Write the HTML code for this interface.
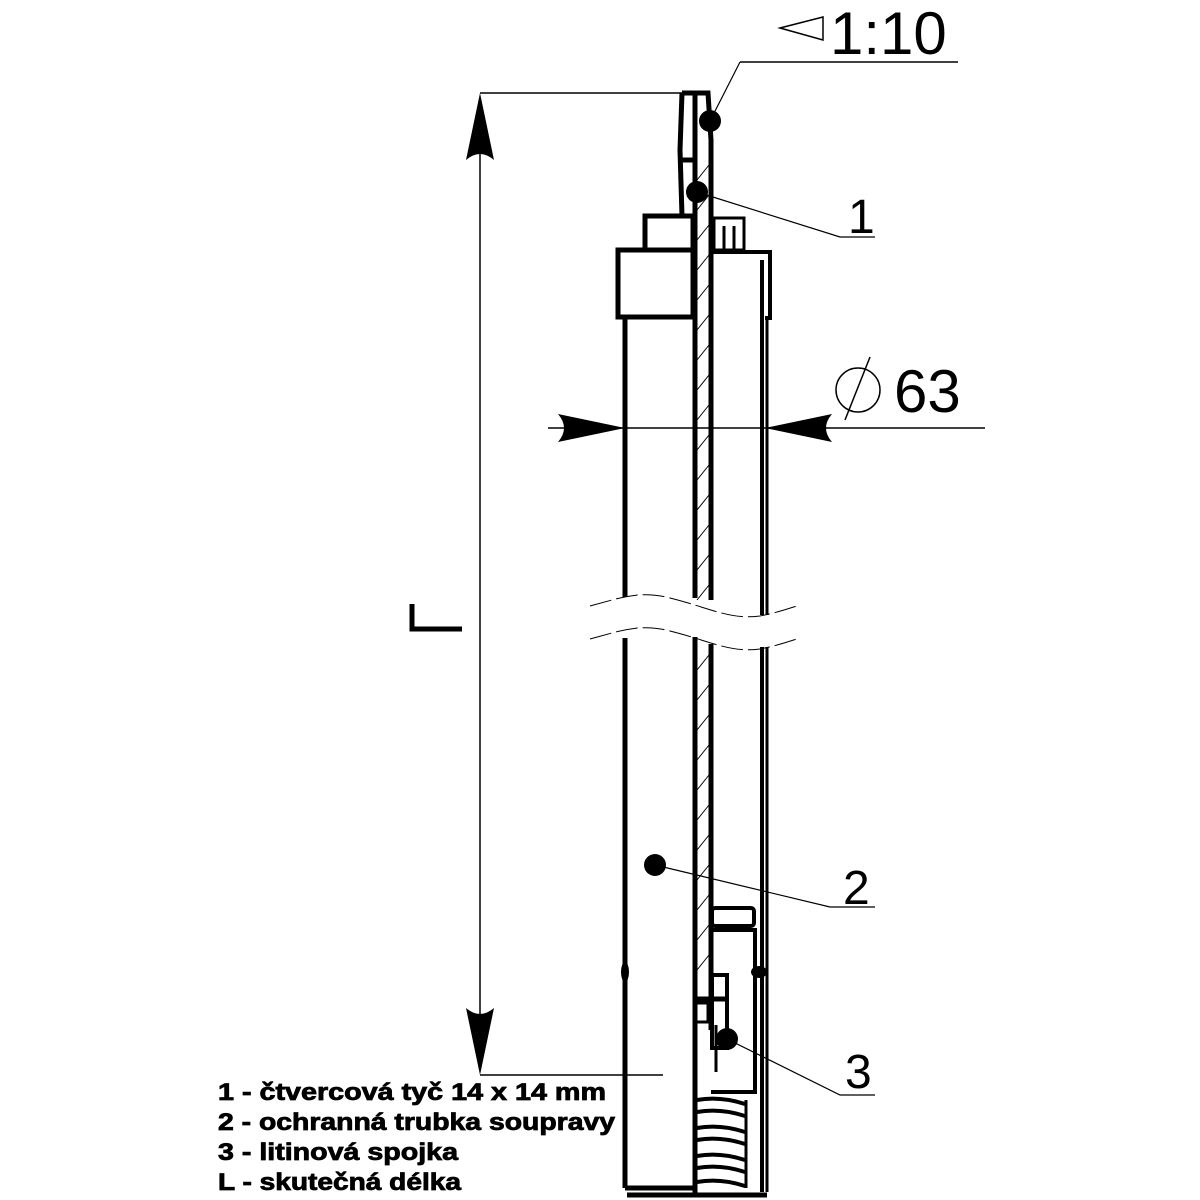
<!DOCTYPE html>
<html><head><meta charset="utf-8"><style>html,body{margin:0;padding:0;background:#fff}svg{display:block}</style></head>
<body>
<svg width="1200" height="1200" viewBox="0 0 1200 1200" xmlns="http://www.w3.org/2000/svg" font-family="Liberation Sans, sans-serif">
<rect width="1200" height="1200" fill="#fff"/>
<g stroke="#000" fill="none">
<line x1="480" y1="93" x2="682" y2="93" stroke-width="1.5"/>
<line x1="480" y1="1075" x2="663" y2="1075" stroke-width="1.5"/>
<line x1="480" y1="100" x2="480" y2="1068" stroke-width="1.5"/>
</g>
<path d="M480,93 L466,160 Q480,148 494,160 Z" fill="#000"/>
<path d="M480,1075 L466,1008 Q480,1020 494,1008 Z" fill="#000"/>
<path d="M412,604 L412,629 L462,629" stroke="#000" stroke-width="5" fill="none"/>
<line x1="548" y1="428" x2="985" y2="428" stroke="#000" stroke-width="1.5"/>
<path d="M625,428 L558,414 Q570,428 558,442 Z" fill="#000"/>
<path d="M765,428 L832,414 Q820,428 832,442 Z" fill="#000"/>
<circle cx="858" cy="390" r="22" stroke="#000" stroke-width="1.5" fill="none"/>
<line x1="845" y1="420" x2="870" y2="357" stroke="#000" stroke-width="1.5"/>
<text x="894" y="412" font-size="60">63</text>
<path d="M780,28 L823,17 L823,40 Z" stroke="#000" stroke-width="1.5" fill="none"/>
<text x="830" y="54" font-size="60">1:10</text>
<line x1="740" y1="62" x2="958" y2="62" stroke="#000" stroke-width="1.5"/>
<line x1="740" y1="62" x2="710" y2="121" stroke="#000" stroke-width="1.2"/>
<circle cx="710" cy="121" r="11" fill="#000"/>
<circle cx="697" cy="192" r="11" fill="#000"/>
<path d="M697,192 L840,237 L875,237" stroke="#000" stroke-width="1.2" fill="none"/>
<text x="848" y="233" font-size="48">1</text>
<g stroke="#000" fill="none" stroke-width="5">
<path d="M682,93 L708,93 L711,140 L711,600"/>
<path d="M682,93 L680,150 L682,216"/>
<line x1="682" y1="160" x2="695" y2="160"/>
<line x1="695" y1="93" x2="695" y2="598"/>
<rect x="645" y="216" width="48" height="34"/>
<rect x="618" y="250" width="75" height="67"/>
<rect x="714" y="218" width="30" height="32" stroke-width="3"/>
<line x1="724" y1="226" x2="724" y2="250" stroke-width="3"/>
<line x1="734" y1="226" x2="734" y2="250" stroke-width="3"/>
<path d="M711,252 L770,252 L770,318 L765,318" stroke-width="4"/>
<line x1="762" y1="260" x2="762" y2="615" stroke-width="4"/>
<line x1="767" y1="318" x2="767" y2="615" stroke-width="3"/>
<line x1="625" y1="317" x2="625" y2="597"/>
<line x1="625" y1="638" x2="625" y2="1188"/>
<line x1="695" y1="637" x2="695" y2="1197"/>
<line x1="711" y1="644" x2="711" y2="1030"/>
<line x1="762" y1="647" x2="762" y2="1192" stroke-width="4"/>
<line x1="767" y1="647" x2="767" y2="1192" stroke-width="3"/>
<path d="M625,1188 L693,1188 M627,1195 L767,1195"/>
<rect x="712" y="908" width="42" height="18" rx="3" stroke-width="4"/>
<path d="M711,930 L755,930 L755,1092 L711,1092" stroke-width="4"/>
<rect x="712" y="975" width="15" height="73" stroke-width="4"/>
<line x1="695" y1="998" x2="727" y2="998" stroke-width="3"/>
<line x1="695" y1="1000" x2="727" y2="1000" stroke-width="3"/>
<path d="M695,1003 L708,1003 L708,1022 L695,1022" stroke-width="3"/>
<line x1="716" y1="1025" x2="716" y2="1072" stroke-width="3"/>
</g>
<g stroke="#000" stroke-width="1" fill="none">
<path d="M697,180 L709,165 M697,210 L709,195 M697,240 L709,225 M697,270 L709,255 M697,300 L709,285 M697,330 L709,315 M697,360 L709,345 M697,390 L709,375 M697,420 L709,405 M697,450 L709,435 M697,480 L709,465 M697,510 L709,495 M697,540 L709,525 M697,570 L709,555 M697,600 L709,585 M697,670 L709,655 M697,700 L709,685 M697,730 L709,715 M697,760 L709,745 M697,790 L709,775 M697,820 L709,805 M697,850 L709,835 M697,880 L709,865 M697,910 L709,895 M697,940 L709,925 M697,970 L709,955"/>
<path d="M590,606 C620,598 640,590 670,598 C710,608 730,620 760,616 C780,612 790,608 800,605" stroke-dasharray="22,5"/>
<path d="M590,639 C620,631 640,623 670,631 C710,641 730,653 760,649 C780,645 790,641 800,638" stroke-dasharray="22,5"/>
</g>
<g stroke="#000" stroke-width="4" fill="none">
<path d="M697,1100 Q720,1096 745,1104 M697,1112 Q720,1108 745,1116 M697,1128 Q720,1124 745,1132 M697,1140 Q720,1136 745,1144 M697,1156 Q720,1152 745,1160 M697,1168 Q720,1164 745,1172 M697,1182 Q720,1178 745,1186"/>
<line x1="746" y1="1100" x2="746" y2="1188" stroke-width="3"/>
</g>
<ellipse cx="625" cy="972" rx="4" ry="10" fill="#000"/>
<ellipse cx="759" cy="972" rx="8" ry="6" fill="#000"/>
<circle cx="655" cy="865" r="11" fill="#000"/>
<path d="M655,865 L830,907 L875,907" stroke="#000" stroke-width="1.2" fill="none"/>
<text x="843" y="904" font-size="48">2</text>
<circle cx="727" cy="1039" r="11" fill="#000"/>
<path d="M727,1039 L840,1095 L875,1095" stroke="#000" stroke-width="1.2" fill="none"/>
<text x="845" y="1088" font-size="48">3</text>
<g font-weight="bold" font-size="24" fill="#000" stroke="#000" stroke-width="0.8" font-family="Liberation Sans, sans-serif">
<text x="218" y="1100" textLength="388" lengthAdjust="spacingAndGlyphs">1 - čtvercová tyč 14 x 14 mm</text>
<text x="218" y="1130" textLength="397" lengthAdjust="spacingAndGlyphs">2 - ochranná trubka soupravy</text>
<text x="218" y="1160" textLength="240" lengthAdjust="spacingAndGlyphs">3 - litinová spojka</text>
<text x="218" y="1190" textLength="243" lengthAdjust="spacingAndGlyphs">L - skutečná délka</text>
</g>
</svg>
</body></html>
